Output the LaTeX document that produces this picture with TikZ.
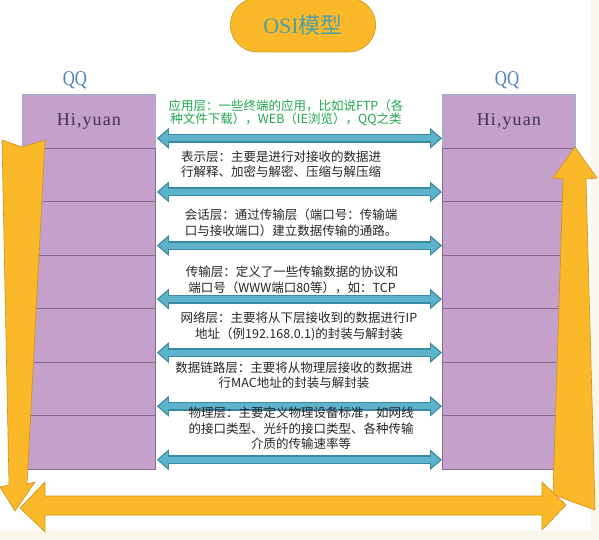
\documentclass[tikz,border=0pt]{standalone}
\usepackage{fontspec}
\newfontfamily\cjk{Noto Sans CJK SC}
\newfontfamily\narrowserif[FakeStretch=0.8]{Liberation Serif}
\newfontfamily\wideserif[LetterSpace=6]{Liberation Serif}
\newfontfamily\plainserif{Liberation Serif}
\usetikzlibrary{arrows.meta, shapes.misc, positioning}

\definecolor{layerfill}{HTML}{C4A0CB}
\definecolor{layerline}{HTML}{866A90}
\definecolor{topline}{HTML}{95B3D7}
\definecolor{pipefill}{HTML}{FBB829}
\definecolor{pipeline}{HTML}{C99416}
\definecolor{linkfill}{HTML}{5DB3CC}
\definecolor{linkrim}{HTML}{3A8AA2}
\definecolor{appgreen}{HTML}{20A84C}
\definecolor{titletext}{HTML}{4E9FA6}
\definecolor{qqblue}{HTML}{4F81BD}
\definecolor{hitext}{HTML}{403152}
\definecolor{cream}{HTML}{FAF6EC}

\begin{document}
\begin{tikzpicture}[x=1pt,y=-1pt,
	layer/.style={draw=layerline, line width=0.8pt, fill=layerfill, minimum width=133pt, minimum height=53.57pt, inner sep=0pt, anchor=north west},
	pipe/.style={fill=pipefill, draw=pipeline, line width=0.6pt},
	linkrim/.style={draw=linkrim, line width=9pt, {Triangle[width=20pt,length=12pt]}-{Triangle[width=20pt,length=12pt]}},
	linkcore/.style={draw=linkfill, line width=6pt, shorten <=2pt, shorten >=2pt, {Triangle[width=15pt,length=9pt]}-{Triangle[width=15pt,length=9pt]}},
	desc/.style={font=\cjk\fontsize{12.5}{15.5}\selectfont, align=center, inner sep=0pt, text=black!85},
	qq/.style={font=\narrowserif\fontsize{21}{21}\selectfont, text=qqblue},
	hi/.style={font=\wideserif\fontsize{18}{18}\selectfont, text=hitext}]
	\fill[cream] (0,0) rectangle (599,540);
	\fill[white] (0,0) rectangle (591,531);
	\useasboundingbox (0,0) rectangle (599,540);

	% title
	\node[rounded rectangle, draw=pipeline, fill=pipefill, line width=0.6pt, minimum width=152pt, minimum height=54pt, text=titletext, font=\fontsize{22}{22}\selectfont] (title) at (303,25) {{\plainserif OSI}{\cjk 模型}};

	% the two stacks
	\node[layer, draw=topline] (lrow1) at (22,94) {};
	\node[layer, draw=topline] (rrow1) at (442,94) {};
	\foreach \i in {2,...,7} {
		\node[layer] (lrow\i) at (22,{94+53.57*(\i-1)}) {};
		\node[layer] (rrow\i) at (442,{94+53.57*(\i-1)}) {};
	}
	\node[hi] (lhi) at (lrow1.center) {Hi,yuan};
	\node[hi] (rhi) at (rrow1.center) {Hi,yuan};
	\node[qq] (lqq) at (75,80) {QQ};
	\node[qq] (rqq) at (507,80) {QQ};

	% orange U path: down, across, up
	\draw[pipe] (2,140) -- (22,147) -- (45,140) -- (27,484) -- (35,482) -- (15,511) -- (0,487) -- (9,485) -- cycle;
	\draw[pipe] (575,147) -- (597,178) -- (586,179) -- (595,510) -- (570,501) -- (553,494) -- (563,179) -- (553,178) -- cycle;
	\draw[pipe] (20,508) -- (45,482) -- (45,496) -- (542,496) -- (542,482) -- (566,505) -- (542,530) -- (542,515) -- (45,515) -- (45,532) -- cycle;

	% peer links
	\foreach \i in {1,...,7} {
		\coordinate (lend\i) at ([shift={(1,-10)}]lrow\i.south east);
		\coordinate (rend\i) at ([shift={(0,-10)}]rrow\i.south west);
		\draw[linkrim] (lend\i) -- (rend\i);
		\draw[linkcore] (lend\i) -- (rend\i);
	}

	% layer notes
	\node[desc, text=appgreen, font=\cjk\fontsize{12.5}{13}\selectfont] (desc1) at (286,113) {应用层：一些终端的应用，比如说FTP（各\\种文件下载），WEB（IE浏览），QQ之类};
	\node[desc] (desc2) at (281,164) {表示层：主要是进行对接收的数据进\\行解释、加密与解密、压缩与解压缩};
	\node[desc] (desc3) at (291,222.5) {会话层：通过传输层（端口号：传输端\\口与接收端口）建立数据传输的通路。};
	\node[desc] (desc4) at (292,280) {传输层：定义了一些传输数据的协议和\\端口号（WWW端口80等），如：TCP};
	\node[desc] (desc5) at (299,326.5) {网络层：主要将从下层接收到的数据进行IP\\地址（例192.168.0.1)的封装与解封装};
	\node[desc] (desc6) at (294,375.5) {数据链路层：主要将从物理层接收的数据进\\行MAC地址的封装与解封装};
	\node[desc] (desc7) at (301,428.5) {物理层：主要定义物理设备标准，如网线\\的接口类型、光纤的接口类型、各种传输\\介质的传输速率等};
\end{tikzpicture}
\end{document}
